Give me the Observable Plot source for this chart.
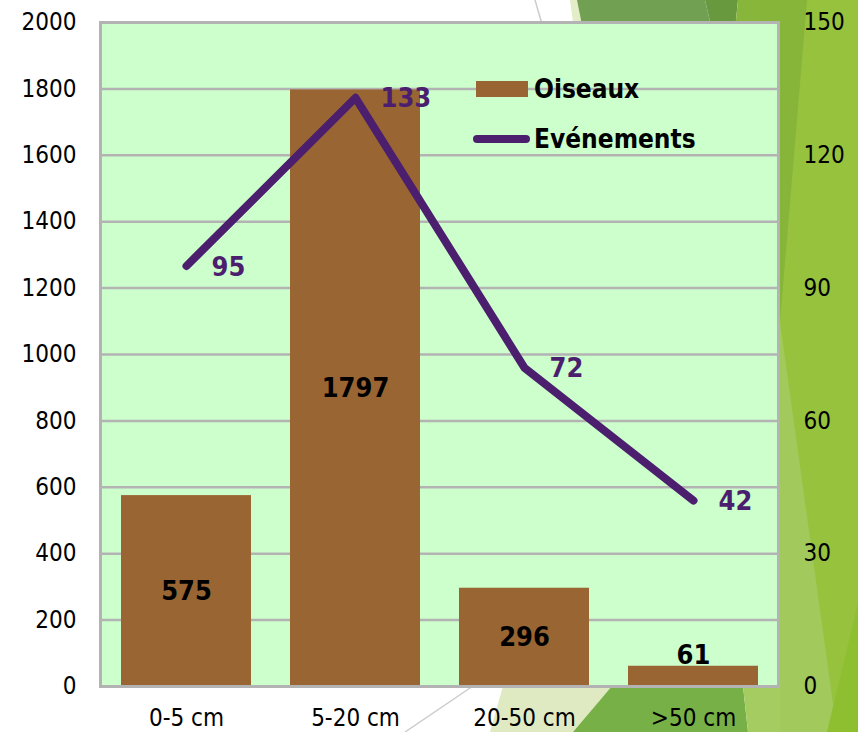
<!DOCTYPE html>
<html>
<head>
<meta charset="utf-8">
<script src="https://cdn.jsdelivr.net/npm/d3@7"></script>
<script src="https://cdn.jsdelivr.net/npm/@observablehq/plot@0.6"></script>
<style>
  html, body { margin: 0; padding: 0; background: #ffffff; }
  #wrap { position: relative; width: 858px; height: 732px; overflow: hidden; font-family: "DejaVu Sans Condensed", "DejaVu Sans", sans-serif; }
  #bg { position: absolute; left: 0; top: 0; }
  #chart { position: absolute; left: 0; top: 0; }
  .legend { position: absolute; left: 473px; top: 74px; font-weight: bold; font-size: 26px; color: #000; }
  .legend .row { display: flex; align-items: center; height: 30px; margin-bottom: 20px; }
  .legend .sw-bar { width: 52px; height: 16px; background: #996633; margin-left: 3px; margin-right: 6px; }
  .legend .sw-line { width: 57px; height: 8px; border-radius: 4px; background: #4b1f6e; margin-right: 4px; }
</style>
</head>
<body>
<div id="wrap">
  <svg id="bg" width="858" height="732" xmlns="http://www.w3.org/2000/svg">
    <!-- decorative theme shapes -->
    <polygon points="570,0 578,0 584,30 574,30" fill="#e3eec9"/>
    <polygon points="577,0 705,0 712,30 583,30" fill="#72a052"/>
    <polygon points="705,0 738,0 735,30 712,30" fill="#68993f"/>
    <polygon points="738,0 858,0 858,30 735,30" fill="#88b63a"/>
    <polygon points="760,0 858,0 858,732 760,732" fill="#96c23e"/>
    <polygon points="760,0 807,0 780,322 760,322" fill="#86b53a"/>
    <polygon points="760,322 780,322 837,732 760,732" fill="#a2c95c"/>
    <polygon points="858,603 858,732 827,732" fill="#8dbf30"/>
    <polygon points="503,686 612,686 573,732 490,732" fill="#dfeac3"/>
    <polygon points="612,686 743,686 748,732 573,732" fill="#77b046"/>
    <polygon points="743,686 780,686 780,732 748,732" fill="#a5cc60"/>
    <line x1="535" y1="0" x2="542" y2="24" stroke="#cccccc" stroke-width="1.5"/>
    <line x1="473" y1="686" x2="405" y2="732" stroke="#cccccc" stroke-width="1.5"/>
  </svg>
  <div id="chart"></div>
  <div class="legend">
    <div class="row"><div class="sw-bar"></div><span>Oiseaux</span></div>
    <div class="row"><div class="sw-line"></div><span>Evénements</span></div>
  </div>
</div>
<script>
const categories = ["0-5 cm", "5-20 cm", "20-50 cm", ">50 cm"];
const oiseaux = [575, 1797, 296, 61];
const evenements = [95, 133, 72, 42];
const leftTicks = [0, 200, 400, 600, 800, 1000, 1200, 1400, 1600, 1800, 2000];
const rightTicks = [0, 30, 60, 90, 120, 150];
const leftMax = 2000;
const rightMax = 150;

const ratio = leftMax / rightMax;
const data = categories.map((c, i) => ({cat: c, oiseaux: oiseaux[i], ev: evenements[i]}));
const brown = "#996633";
const purple = "#4b1f6e";
const fam = "'DejaVu Sans Condensed', 'DejaVu Sans', sans-serif";

const chart = Plot.plot({
  width: 858,
  height: 732,
  marginLeft: 100,
  marginRight: 80,
  marginTop: 22,
  marginBottom: 46,
  style: {background: "transparent", fontFamily: fam, fontSize: "24px", color: "#000"},
  x: {type: "band", domain: categories, paddingInner: 0.233, paddingOuter: 0.1165, axis: null},
  y: {domain: [0, leftMax], axis: null},
  marks: [
    Plot.frame({fill: "#ccffcc", stroke: null}),
    Plot.ruleY(leftTicks, {stroke: "#b3b3b3", strokeWidth: 2.5}),
    Plot.barY(data, {x: "cat", y: "oiseaux", fill: brown}),
    Plot.line(data, {x: "cat", y: d => d.ev * ratio, stroke: purple, strokeWidth: 8, strokeLinejoin: "round", strokeLinecap: "round"}),
    Plot.frame({stroke: "#b3b3b3", strokeWidth: 3}),
    Plot.text(data.filter(d => d.oiseaux >= 150), {x: "cat", y: d => d.oiseaux / 2, text: d => String(d.oiseaux), fill: "#000", fontWeight: "bold", fontSize: 27}),
    Plot.text(data.filter(d => d.oiseaux < 150), {x: "cat", y: "oiseaux", text: d => String(d.oiseaux), dy: -11, fill: "#000", fontWeight: "bold", fontSize: 27}),
    Plot.text(data, {x: "cat", y: d => d.ev * ratio, text: d => String(d.ev), textAnchor: "start", dx: 25, dy: 1, fill: purple, fontWeight: "bold", fontSize: 27}),
    Plot.axisY(leftTicks, {anchor: "left", tickSize: 0, tickPadding: 24, label: null, fontSize: 24, tickFormat: d => String(d)}),
    Plot.axisY(rightTicks.map(t => t * ratio), {anchor: "right", tickSize: 0, tickPadding: 25, label: null, fontSize: 24, tickFormat: d => String(Math.round(d / ratio))}),
    Plot.axisX({tickSize: 0, tickPadding: 22, label: null, fontSize: 24})
  ]
});
document.getElementById("chart").appendChild(chart);
</script>
</body>
</html>
